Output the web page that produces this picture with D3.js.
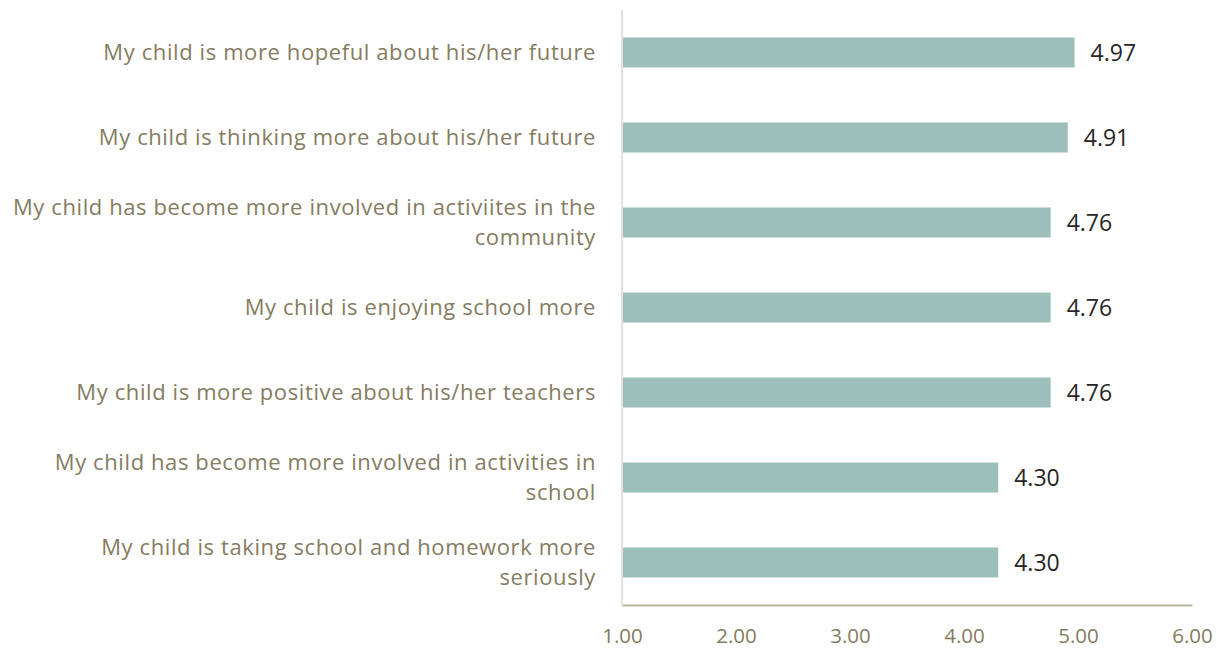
<!DOCTYPE html>
<html>
<head>
<meta charset="utf-8">
<script src="https://cdn.jsdelivr.net/npm/d3@7"></script>
<style>
  body { margin: 0; background: #fff; }
  text { font-family: "Open Sans", sans-serif; }
</style>
</head>
<body>
<svg id="chart" width="1219" height="650"></svg>
<script>
// survey items, top to bottom
const labels = [
  ["My child is more hopeful about his/her future"],
  ["My child is thinking more about his/her future"],
  ["My child has become more involved in activiites in the", "community"],
  ["My child is enjoying school more"],
  ["My child is more positive about his/her teachers"],
  ["My child has become more involved in activities in", "school"],
  ["My child is taking school and homework more", "seriously"]
];
const values = [4.97, 4.91, 4.76, 4.76, 4.76, 4.30, 4.30];
const ticks = [1, 2, 3, 4, 5, 6];

const svg = d3.select('#chart');
const margin = {top: 10, left: 622, right: 27, bottom: 45};
const width = 1219 - margin.left - margin.right;
const height = 650 - margin.top - margin.bottom;

const g = svg.append('g').attr('transform', `translate(${margin.left},${margin.top})`);

const x = d3.scaleLinear().domain([1, 6]).range([0, width]);
const y = d3.scaleBand().domain(d3.range(values.length)).range([0, height]).paddingInner(0.647).paddingOuter(0.3235);

// bars
g.selectAll('rect.bar')
  .data(values)
  .join('rect')
  .attr('class', 'bar')
  .attr('x', x(1))
  .attr('y', (d, i) => y(i))
  .attr('width', d => x(d) - x(1))
  .attr('height', y.bandwidth())
  .attr('fill', '#9dbfbc');

// value labels
g.selectAll('text.val')
  .data(values)
  .join('text')
  .attr('class', 'val')
  .attr('x', d => x(d) + 16)
  .attr('y', (d, i) => y(i) + y.bandwidth() / 2)
  .attr('dy', '0.36em')
  .attr('font-size', 23)
  .attr('fill', '#262626')
  .text(d => d.toFixed(2));

// category labels
const lab = g.selectAll('text.cat')
  .data(labels)
  .join('text')
  .attr('class', 'cat')
  .attr('text-anchor', 'end')
  .attr('font-size', 22)
  .attr('letter-spacing', 0.6)
  .attr('fill', '#857c61')
  .attr('transform', (d, i) => `translate(-26,${y(i) + y.bandwidth() / 2})`);
lab.selectAll('tspan')
  .data(d => d.map((t, k) => ({t, k, n: d.length})))
  .join('tspan')
  .attr('x', 0)
  .attr('y', d => (d.k - (d.n - 1) / 2) * 30)
  .attr('dy', '0.36em')
  .text(d => d.t);

// y axis line
g.append('line')
  .attr('x1', 0).attr('x2', 0)
  .attr('y1', 0).attr('y2', height)
  .attr('stroke', '#e6e2d8').attr('stroke-width', 2);

// x axis
const xAxis = d3.axisBottom(x).tickValues(ticks).tickSize(0).tickPadding(23).tickFormat(d3.format('.2f'));
const xg = g.append('g').attr('transform', `translate(0,${height})`).call(xAxis);
xg.select('.domain').attr('stroke', '#bdb698').attr('stroke-width', 2);
xg.selectAll('text').attr('font-size', 20.5).attr('fill', '#857c61').style('font-family', '"Open Sans", sans-serif');
</script>
</body>
</html>
